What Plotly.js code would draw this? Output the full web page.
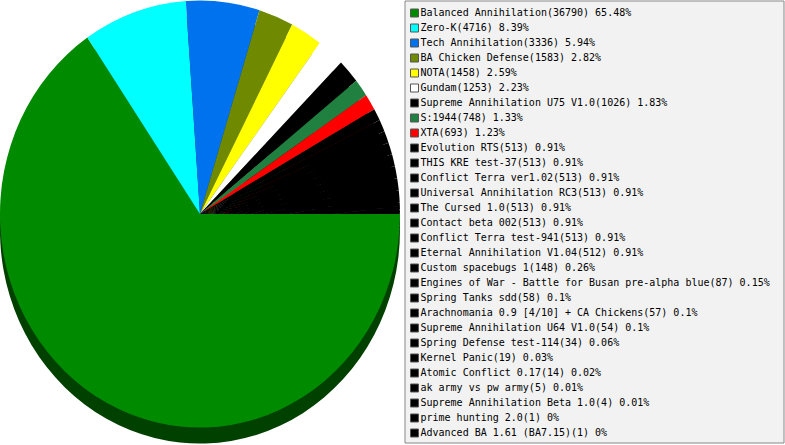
<!DOCTYPE html>
<html>
<head>
<meta charset="utf-8">
<script src="https://cdn.plot.ly/plotly-3.0.1.min.js"></script>
<style>
html,body{margin:0;padding:0;background:#fff;}
#chart{width:785px;height:445px;}
</style>
</head>
<body>
<div id="chart"></div>
<script>
const names = [
  "Balanced Annihilation","Zero-K","Tech Annihilation","BA Chicken Defense","NOTA","Gundam",
  "Supreme Annihilation U75 V1.0","S:1944","XTA","Evolution RTS","THIS KRE test-37",
  "Conflict Terra ver1.02","Universal Annihilation RC3","The Cursed 1.0","Contact beta 002",
  "Conflict Terra test-941","Eternal Annihilation V1.04","Custom spacebugs 1",
  "Engines of War - Battle for Busan pre-alpha blue","Spring Tanks sdd",
  "Arachnomania 0.9 [4/10] + CA Chickens","Supreme Annihilation U64 V1.0",
  "Spring Defense test-114","Kernel Panic","Atomic Conflict 0.17","ak army vs pw army",
  "Supreme Annihilation Beta 1.0","prime hunting 2.0","Advanced BA 1.61 (BA7.15)"
];
const values = [36790,4716,3336,1583,1458,1253,1026,748,693,513,513,513,513,513,513,513,512,148,87,58,57,54,34,19,14,5,4,1,1];
const percents = ["65.48","8.39","5.94","2.82","2.59","2.23","1.83","1.33","1.23","0.91","0.91","0.91","0.91","0.91","0.91","0.91","0.91","0.26","0.15","0.1","0.1","0.1","0.06","0.03","0.02","0.01","0.01","0","0"];
const colors = ["#008a00","#00ffff","#0072ee","#708a00","#ffff00","#ffffff","#000000","#208040","#ff0000",
  "#000000","#000000","#000000","#000000","#000000","#000000","#000000","#000000","#000000","#000000",
  "#000000","#000000","#000000","#000000","#000000","#000000","#000000","#000000","#000000","#000000"];

function darken(hex, f){
  const n = parseInt(hex.slice(1),16);
  const r = Math.round(((n>>16)&255)*f), g = Math.round(((n>>8)&255)*f), b = Math.round((n&255)*f);
  return "rgb("+r+","+g+","+b+")";
}
const shadowColors = colors.map(c => darken(c, 0.47));
const legendText = names.map((n,i) => n + "(" + values[i] + ") " + percents[i] + "%");
const rowIndex = names.map((n,i) => i);

const W = 785, H = 445;
const cx = 200, cy = 214, r = 200, depth = 15;
const pieDomain = (offset) => ({
  x: [(cx - r)/W, (cx + r)/W],
  y: [(H - cy - offset - r)/H, (H - cy - offset + r)/H]
});

const traces = [
  {type:"pie", values: values, labels: names, sort:false, direction:"clockwise", rotation:90,
   marker:{colors: shadowColors, line:{width:0}}, textinfo:"none", showlegend:false,
   hoverinfo:"skip", domain: pieDomain(depth)},
  {type:"pie", values: values, labels: names, sort:false, direction:"clockwise", rotation:90,
   marker:{colors: colors, line:{width:0}}, textinfo:"none", showlegend:false,
   hoverinfo:"skip", domain: pieDomain(0)},
  {type:"scatter", mode:"markers+text", x: rowIndex.map(() => 9.5), y: rowIndex,
   text: legendText, textposition:"middle right",
   textfont:{family:"DejaVu Sans Mono", size:10, color:"#000"},
   marker:{symbol:"square", size:8, color: colors, line:{width:1, color:"#555"}},
   hoverinfo:"skip", showlegend:false, cliponaxis:false}
];

const boxL = 405, boxR = 784, boxT = 1, boxB = 443;
const layout = {
  width: W, height: H,
  margin:{l:0,r:0,t:0,b:0,pad:0},
  paper_bgcolor:"#ffffff", plot_bgcolor:"rgba(0,0,0,0)",
  showlegend:false,
  xaxis:{domain:[boxL/W, boxR/W], range:[0, boxR-boxL], visible:false, fixedrange:true},
  yaxis:{domain:[0,1], range:[(H-13)/15, -13/15], visible:false, fixedrange:true},
  shapes:[{type:"rect", xref:"paper", yref:"paper", layer:"below",
    x0: boxL/W, x1: boxR/W, y0: (H-boxB)/H, y1: (H-boxT)/H,
    line:{color:"#888888", width:1}, fillcolor:"#f2f2f2"}]
};

Plotly.newPlot("chart", traces, layout, {staticPlot:true, displayModeBar:false}).then(gd => {
  const s = 213.5 / r;
  const pl = gd.querySelector(".pielayer");
  if (pl) pl.setAttribute("transform", "translate(0," + (cy*(1-s)) + ") scale(1," + s + ")");
});
</script>
</body>
</html>
